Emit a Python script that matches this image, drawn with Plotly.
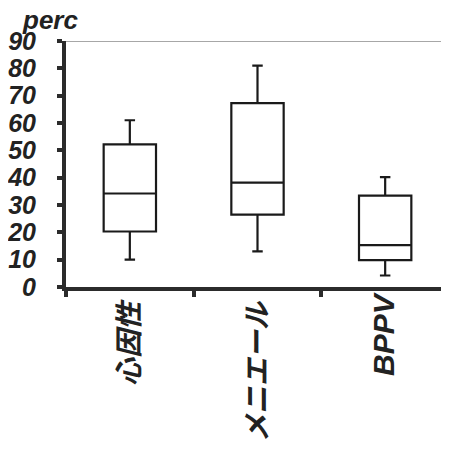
import plotly.graph_objects as go

categories = ["心因性", "メニエール", "BPPV"]
lower_whisker = [10, 13, 4.2]
q1_values = [20.3, 26.5, 9.8]
median_values = [34.2, 38.2, 15.3]
q3_values = [52.2, 67.3, 33.4]
upper_whisker = [61, 81, 40.2]
y_ticks = [0, 10, 20, 30, 40, 50, 60, 70, 80, 90]

FONT = "Liberation Sans, Arial, Noto Sans CJK JP, sans-serif"
AXIS = "#2b2b2b"


def label_html(s):
    if s.isascii():
        return '<span style="font-size:30px">%s</span>' % s
    return '<span style="font-size:28px">%s</span><span style="font-size:28px">\u00a0</span>' % s


fig = go.Figure()
fig.add_trace(go.Box(
    x=categories,
    q1=q1_values,
    median=median_values,
    q3=q3_values,
    lowerfence=lower_whisker,
    upperfence=upper_whisker,
    width=0.41,
    whiskerwidth=0.2,
    fillcolor="white",
    line=dict(color="#1a1a1a", width=2.2),
    boxpoints=False,
    hoverinfo="skip",
))

fig.add_shape(type="line", xref="paper", yref="y", x0=0, x1=1, y0=90, y1=90,
              line=dict(color="#8a8a8a", width=1.5))

fig.add_annotation(text="perc", xref="paper", yref="paper", x=0, y=1.0,
                   xanchor="left", yanchor="bottom", xshift=-45, yshift=5,
                   showarrow=False, borderpad=0,
                   font=dict(family=FONT, size=26, color="#222", weight="bold", style="italic"))

fig.update_layout(
    width=441, height=441,
    margin=dict(l=58, r=0, t=33, b=162),
    plot_bgcolor="white", paper_bgcolor="white",
    showlegend=False,
    xaxis=dict(
        type="category",
        showline=True, linecolor=AXIS, linewidth=4,
        ticks="outside", tickson="boundaries", ticklen=6, tickwidth=4, tickcolor=AXIS,
        tickangle=-90,
        tickvals=categories,
        ticktext=[label_html(c) for c in categories],
        ticklabelstandoff=-8,
        tickfont=dict(family=FONT, size=28, color="#222", weight="bold", style="italic"),
        showgrid=False, zeroline=False,
        range=[-0.5, 2.5],
    ),
    yaxis=dict(
        range=[0, 90],
        tickvals=y_ticks,
        showline=True, linecolor=AXIS, linewidth=4,
        ticks="outside", ticklen=5, tickwidth=4, tickcolor=AXIS,
        ticklabelstandoff=16,
        tickfont=dict(family=FONT, size=25, color="#222", weight="bold", style="italic"),
        showgrid=False, zeroline=False,
    ),
)

fig.write_html("out.html")
